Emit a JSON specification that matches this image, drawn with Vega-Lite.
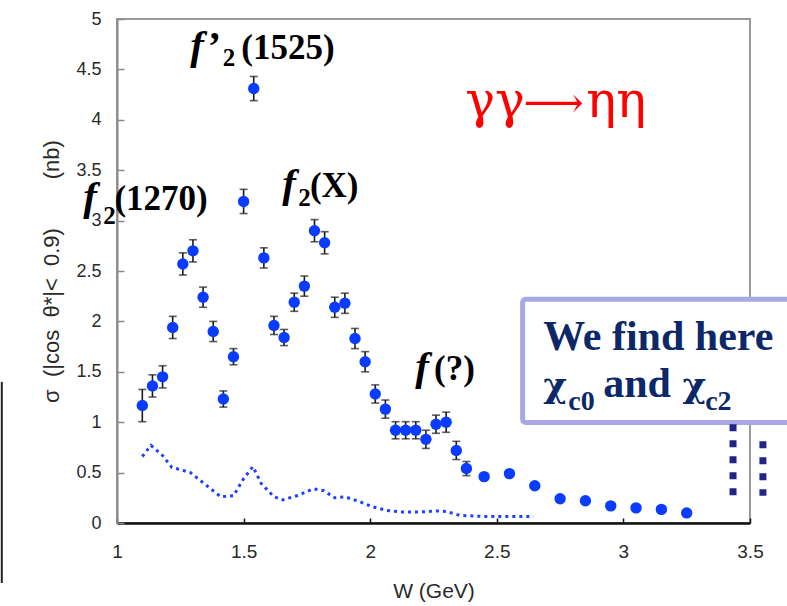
{
  "$schema": "https://vega.github.io/schema/vega-lite/v6.json",
  "width": 633,
  "height": 504,
  "autosize": {"type": "none"},
  "padding": {"left": 117, "top": 19, "right": 37, "bottom": 83},
  "background": "white",
  "config": {
    "view": {"stroke": "#9a9a9a", "strokeWidth": 2},
    "axis": {"labelFont": "Liberation Sans", "titleFont": "Liberation Sans", "grid": false}
  },
  "datasets": {
    "points": [
      {"W": 1.10, "sigma": 1.165, "err": 0.16},
      {"W": 1.14, "sigma": 1.36, "err": 0.11},
      {"W": 1.18, "sigma": 1.45, "err": 0.11},
      {"W": 1.22, "sigma": 1.94, "err": 0.11},
      {"W": 1.26, "sigma": 2.57, "err": 0.11},
      {"W": 1.30, "sigma": 2.70, "err": 0.11},
      {"W": 1.34, "sigma": 2.24, "err": 0.10},
      {"W": 1.38, "sigma": 1.90, "err": 0.10},
      {"W": 1.42, "sigma": 1.23, "err": 0.08},
      {"W": 1.46, "sigma": 1.65, "err": 0.08},
      {"W": 1.50, "sigma": 3.19, "err": 0.12},
      {"W": 1.54, "sigma": 4.31, "err": 0.12},
      {"W": 1.58, "sigma": 2.63, "err": 0.10},
      {"W": 1.62, "sigma": 1.96, "err": 0.09},
      {"W": 1.66, "sigma": 1.84, "err": 0.08},
      {"W": 1.70, "sigma": 2.19, "err": 0.09},
      {"W": 1.74, "sigma": 2.35, "err": 0.10},
      {"W": 1.78, "sigma": 2.90, "err": 0.11},
      {"W": 1.82, "sigma": 2.78, "err": 0.11},
      {"W": 1.86, "sigma": 2.14, "err": 0.10},
      {"W": 1.90, "sigma": 2.18, "err": 0.10},
      {"W": 1.94, "sigma": 1.83, "err": 0.10},
      {"W": 1.98, "sigma": 1.60, "err": 0.10},
      {"W": 2.02, "sigma": 1.28, "err": 0.09},
      {"W": 2.06, "sigma": 1.13, "err": 0.09},
      {"W": 2.10, "sigma": 0.92, "err": 0.085},
      {"W": 2.14, "sigma": 0.92, "err": 0.085},
      {"W": 2.18, "sigma": 0.92, "err": 0.085},
      {"W": 2.22, "sigma": 0.83, "err": 0.09},
      {"W": 2.26, "sigma": 0.98, "err": 0.09},
      {"W": 2.30, "sigma": 1.00, "err": 0.10},
      {"W": 2.34, "sigma": 0.72, "err": 0.09},
      {"W": 2.38, "sigma": 0.54, "err": 0.07},
      {"W": 2.45, "sigma": 0.46, "err": null},
      {"W": 2.55, "sigma": 0.49, "err": null},
      {"W": 2.65, "sigma": 0.37, "err": null},
      {"W": 2.75, "sigma": 0.24, "err": null},
      {"W": 2.85, "sigma": 0.22, "err": null},
      {"W": 2.95, "sigma": 0.17, "err": null},
      {"W": 3.05, "sigma": 0.15, "err": null},
      {"W": 3.15, "sigma": 0.135, "err": null},
      {"W": 3.25, "sigma": 0.10, "err": null}
    ],
    "background": [
      {"W": 1.10, "sigma": 0.66},
      {"W": 1.134, "sigma": 0.77},
      {"W": 1.18, "sigma": 0.67},
      {"W": 1.217, "sigma": 0.55},
      {"W": 1.25, "sigma": 0.53},
      {"W": 1.29, "sigma": 0.50},
      {"W": 1.33, "sigma": 0.42},
      {"W": 1.375, "sigma": 0.33},
      {"W": 1.41, "sigma": 0.26},
      {"W": 1.46, "sigma": 0.27},
      {"W": 1.50, "sigma": 0.44},
      {"W": 1.537, "sigma": 0.56},
      {"W": 1.57, "sigma": 0.39},
      {"W": 1.62, "sigma": 0.26},
      {"W": 1.655, "sigma": 0.23},
      {"W": 1.71, "sigma": 0.27},
      {"W": 1.776, "sigma": 0.34},
      {"W": 1.816, "sigma": 0.32},
      {"W": 1.86, "sigma": 0.25},
      {"W": 1.90, "sigma": 0.26},
      {"W": 1.96, "sigma": 0.21},
      {"W": 2.01, "sigma": 0.16},
      {"W": 2.066, "sigma": 0.125},
      {"W": 2.12, "sigma": 0.11},
      {"W": 2.20, "sigma": 0.11},
      {"W": 2.26, "sigma": 0.12},
      {"W": 2.30, "sigma": 0.115},
      {"W": 2.355, "sigma": 0.075},
      {"W": 2.45, "sigma": 0.065},
      {"W": 2.645, "sigma": 0.065}
    ],
    "mesonItalic": [
      {"W": 1.289, "sigma": 4.608, "text": "f’"},
      {"W": 0.867, "sigma": 3.108, "text": "f"},
      {"W": 1.653, "sigma": 3.237, "text": "f"},
      {"W": 2.178, "sigma": 1.42, "text": "f"}
    ],
    "mesonSub": [
      {"W": 1.418, "sigma": 4.53, "text": "2"},
      {"W": 0.946, "sigma": 2.97, "text": "2"},
      {"W": 1.716, "sigma": 3.148, "text": "2"}
    ],
    "mesonMain": [
      {"W": 1.491, "sigma": 4.608, "text": "(1525)"},
      {"W": 0.990, "sigma": 3.108, "text": "(1270)"},
      {"W": 1.762, "sigma": 3.237, "text": "(X)"},
      {"W": 2.252, "sigma": 1.42, "text": "(?)"}
    ],
    "reaction": [
      {"W": 2.375, "sigma": 4.03, "text": "γγ"},
      {"W": 2.853, "sigma": 4.03, "text": "ηη"}
    ],
    "arrow": [
      {"W": 2.605, "sigma": 4.03, "text": "⟶"}
    ],
    "box": [
      {"W": 2.602, "W2": 3.70, "top": 2.219, "bottom": 0.998}
    ],
    "boxMain": [
      {"W": 2.683, "sigma": 1.718, "text": "We find here"},
      {"W": 2.920, "sigma": 1.251, "text": "and"}
    ],
    "boxGreek": [
      {"W": 2.683, "sigma": 1.251, "text": "χ"},
      {"W": 3.233, "sigma": 1.251, "text": "χ"}
    ],
    "boxSub": [
      {"W": 2.782, "sigma": 1.122, "text": "c0"},
      {"W": 3.323, "sigma": 1.122, "text": "c2"}
    ],
    "markers": [
      {"W": 3.433, "top": 0.98, "bottom": 0.27},
      {"W": 3.551, "top": 0.81, "bottom": 0.27}
    ],
    "edge": [
      {"W": 0.545, "top": 1.40, "bottom": -0.595}
    ]
  },
  "layer": [
    {
      "data": {"name": "background"},
      "mark": {"type": "line", "color": "#1f3fff", "strokeWidth": 3, "strokeDash": [3, 4]},
      "encoding": {
        "x": {
          "field": "W", "type": "quantitative",
          "title": "W (GeV)",
          "scale": {"domain": [1, 3.5], "nice": false, "zero": false},
          "axis": {
            "values": [1, 1.5, 2, 2.5, 3, 3.5],
            "format": "~g",
            "titleFontSize": 21,
            "titleFontWeight": "normal",
            "titleColor": "#2a2a2a",
            "titlePadding": 19,
            "labelFontSize": 19,
            "labelColor": "#2a2a2a",
            "labelPadding": 24,
            "labelFlush": false,
            "tickSize": -5,
            "tickColor": "#111",
            "tickWidth": 1.5,
            "domainColor": "#111",
            "domainWidth": 2.5
          }
        },
        "y": {
          "field": "sigma", "type": "quantitative",
          "title": "σ\u00a0\u00a0(|cos\u00a0\u00a0θ*|<\u00a0\u00a00.9)\u00a0\u00a0\u00a0\u00a0\u00a0\u00a0\u00a0\u00a0(nb)",
          "scale": {"domain": [0, 5], "nice": false},
          "axis": {
            "values": [0, 0.5, 1, 1.5, 2, 2.5, 3, 3.5, 4, 4.5, 5],
            "format": "~g",
            "titleFontSize": 22,
            "titleFontWeight": "normal",
            "titleColor": "#2a2a2a",
            "titlePadding": 12,
            "labelFontSize": 18,
            "labelColor": "#2a2a2a",
            "labelPadding": 23,
            "labelFlush": false,
            "tickSize": -7,
            "tickColor": "#888",
            "tickWidth": 1.5,
            "domainColor": "#8a8a8a",
            "domainWidth": 2
          }
        }
      }
    },
    {
      "data": {"name": "points"},
      "transform": [{"filter": "datum.err != null"}],
      "mark": {
        "type": "errorbar",
        "ticks": {"size": 8, "thickness": 1.6, "color": "#1a1a1a"},
        "rule": {"strokeWidth": 1.6, "color": "#1a1a1a"}
      },
      "encoding": {
        "x": {"field": "W", "type": "quantitative", "title": "W (GeV)"},
        "y": {"field": "sigma", "type": "quantitative", "title": "σ\u00a0\u00a0(|cos\u00a0\u00a0θ*|<\u00a0\u00a00.9)\u00a0\u00a0\u00a0\u00a0\u00a0\u00a0\u00a0\u00a0(nb)"},
        "yError": {"field": "err"}
      }
    },
    {
      "data": {"name": "points"},
      "mark": {"type": "circle", "size": 130, "color": "#0a3cff", "opacity": 1},
      "encoding": {
        "x": {"field": "W", "type": "quantitative"},
        "y": {"field": "sigma", "type": "quantitative"}
      }
    },
    {
      "data": {"name": "mesonItalic"},
      "mark": {"type": "text", "font": "Liberation Serif", "fontSize": 41, "fontWeight": "bold", "fontStyle": "italic", "align": "left", "baseline": "alphabetic", "color": "#000"},
      "encoding": {
        "x": {"field": "W", "type": "quantitative"},
        "y": {"field": "sigma", "type": "quantitative"},
        "text": {"field": "text"}
      }
    },
    {
      "data": {"name": "mesonSub"},
      "mark": {"type": "text", "font": "Liberation Serif", "fontSize": 25, "fontWeight": "bold", "align": "left", "baseline": "alphabetic", "color": "#000"},
      "encoding": {
        "x": {"field": "W", "type": "quantitative"},
        "y": {"field": "sigma", "type": "quantitative"},
        "text": {"field": "text"}
      }
    },
    {
      "data": {"name": "mesonMain"},
      "mark": {"type": "text", "font": "Liberation Serif", "fontSize": 35, "fontWeight": "bold", "align": "left", "baseline": "alphabetic", "color": "#000"},
      "encoding": {
        "x": {"field": "W", "type": "quantitative"},
        "y": {"field": "sigma", "type": "quantitative"},
        "text": {"field": "text"}
      }
    },
    {
      "data": {"name": "reaction"},
      "mark": {"type": "text", "font": "DejaVu Serif", "fontSize": 50, "align": "left", "baseline": "alphabetic", "color": "#ff0000"},
      "encoding": {
        "x": {"field": "W", "type": "quantitative"},
        "y": {"field": "sigma", "type": "quantitative"},
        "text": {"field": "text"}
      }
    },
    {
      "data": {"name": "arrow"},
      "mark": {"type": "text", "font": "DejaVu Serif", "fontSize": 42, "align": "left", "baseline": "alphabetic", "color": "#ff0000"},
      "encoding": {
        "x": {"field": "W", "type": "quantitative"},
        "y": {"field": "sigma", "type": "quantitative"},
        "text": {"field": "text"}
      }
    },
    {
      "data": {"name": "box"},
      "mark": {"type": "rect", "fill": "white", "stroke": "#a8a8e4", "strokeWidth": 5, "cornerRadius": 3},
      "encoding": {
        "x": {"field": "W", "type": "quantitative"},
        "x2": {"field": "W2"},
        "y": {"field": "top", "type": "quantitative"},
        "y2": {"field": "bottom"}
      }
    },
    {
      "data": {"name": "boxMain"},
      "mark": {"type": "text", "font": "Liberation Serif", "fontSize": 42, "fontWeight": "bold", "align": "left", "baseline": "alphabetic", "color": "#0c2868"},
      "encoding": {
        "x": {"field": "W", "type": "quantitative"},
        "y": {"field": "sigma", "type": "quantitative"},
        "text": {"field": "text"}
      }
    },
    {
      "data": {"name": "boxGreek"},
      "mark": {"type": "text", "font": "DejaVu Serif", "fontSize": 36, "fontWeight": "bold", "align": "left", "baseline": "alphabetic", "color": "#0c2868"},
      "encoding": {
        "x": {"field": "W", "type": "quantitative"},
        "y": {"field": "sigma", "type": "quantitative"},
        "text": {"field": "text"}
      }
    },
    {
      "data": {"name": "boxSub"},
      "mark": {"type": "text", "font": "Liberation Serif", "fontSize": 28, "fontWeight": "bold", "align": "left", "baseline": "alphabetic", "color": "#0c2868"},
      "encoding": {
        "x": {"field": "W", "type": "quantitative"},
        "y": {"field": "sigma", "type": "quantitative"},
        "text": {"field": "text"}
      }
    },
    {
      "data": {"name": "markers"},
      "mark": {"type": "rule", "color": "#23238a", "strokeWidth": 7, "strokeDash": [7, 9]},
      "encoding": {
        "x": {"field": "W", "type": "quantitative"},
        "y": {"field": "top", "type": "quantitative"},
        "y2": {"field": "bottom"}
      }
    },
    {
      "data": {"name": "edge"},
      "mark": {"type": "rule", "color": "#222", "strokeWidth": 2},
      "encoding": {
        "x": {"field": "W", "type": "quantitative"},
        "y": {"field": "top", "type": "quantitative"},
        "y2": {"field": "bottom"}
      }
    }
  ]
}
